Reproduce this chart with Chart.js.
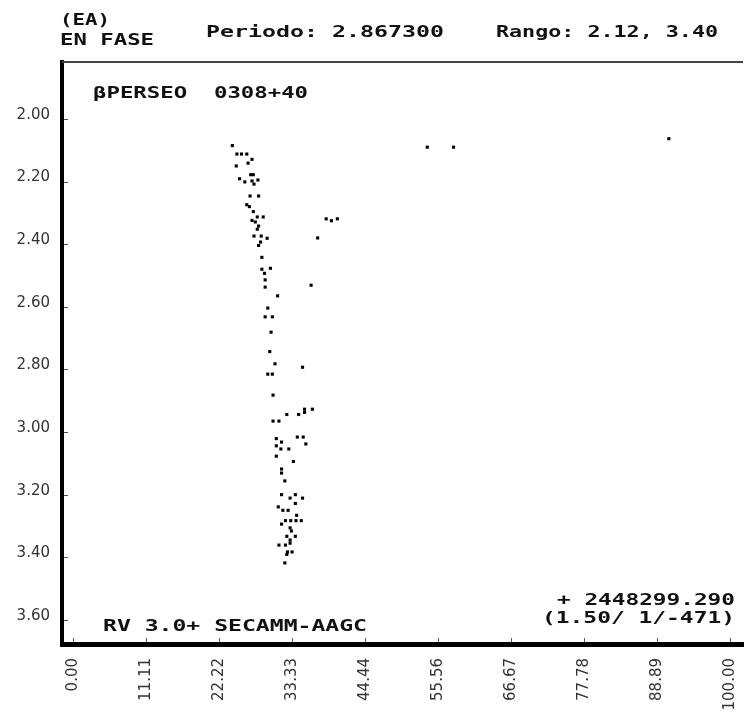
<!DOCTYPE html>
<html>
<head>
<meta charset="utf-8">
<script src="https://cdn.jsdelivr.net/npm/chart.js@4/dist/chart.umd.min.js"></script>
<style>
  html, body { margin: 0; padding: 0; background: #fff; }
  canvas { display: block; }
</style>
</head>
<body>
<canvas id="chart" width="747" height="713"></canvas>
<script>
const phase = [
  24.2, 24.9, 25.6, 26.4, 27.2, 26.6, 24.8, 27.0, 27.4, 25.3,
  26.1, 27.2, 27.5, 28.1, 26.9, 28.2, 26.4, 26.8, 27.4, 28.0,
  28.9, 27.2, 27.7, 28.2, 28.0, 38.5, 39.3, 40.2, 27.5, 28.6,
  29.5, 28.5, 28.2, 37.2, 28.7, 28.7, 29.1, 30.0, 29.2, 29.2,
  36.2, 31.1, 29.6, 29.2, 30.3, 30.1, 29.9, 30.7, 34.9, 29.6,
  30.3, 30.4, 35.2, 36.4, 35.2, 32.5, 34.3, 30.4, 31.3, 34.1,
  35.0, 30.9, 31.7, 30.9, 31.6, 32.8, 35.4, 30.9, 33.5, 31.7,
  31.7, 32.2, 31.7, 33.0, 33.8, 34.9, 33.8, 31.2, 31.9, 32.7,
  34.0, 31.7, 32.3, 33.1, 33.9, 34.7, 33.0, 33.2, 32.5, 33.8,
  33.0, 33.0, 31.3, 32.3, 32.6, 33.3, 32.5, 32.2, 53.9, 57.9,
  90.7
];
const magnitude = [
  2.085, 2.112, 2.112, 2.112, 2.129, 2.141, 2.150, 2.178, 2.178, 2.191,
  2.201, 2.198, 2.208, 2.195, 2.246, 2.246, 2.274, 2.280, 2.296, 2.313,
  2.313, 2.324, 2.329, 2.342, 2.352, 2.319, 2.325, 2.319, 2.374, 2.374,
  2.381, 2.393, 2.404, 2.380, 2.442, 2.480, 2.493, 2.477, 2.514, 2.537,
  2.531, 2.565, 2.604, 2.632, 2.632, 2.681, 2.743, 2.782, 2.793, 2.815,
  2.815, 2.882, 2.927, 2.927, 2.937, 2.944, 2.944, 2.965, 2.965, 3.016,
  3.016, 3.021, 3.032, 3.044, 3.054, 3.054, 3.038, 3.077, 3.094, 3.118,
  3.131, 3.156, 3.200, 3.211, 3.200, 3.211, 3.228, 3.239, 3.250, 3.250,
  3.266, 3.294, 3.283, 3.283, 3.283, 3.283, 3.306, 3.316, 3.333, 3.333,
  3.345, 3.355, 3.361, 3.361, 3.383, 3.383, 3.391, 3.418, 2.090, 2.090,
  2.063
];

const xTickValues = [0, 11.11, 22.22, 33.33, 44.44, 55.56, 66.67, 77.78, 88.89, 100];
const xTickLabels = ["0.00", "11.11", "22.22", "33.33", "44.44", "55.56", "66.67", "77.78", "88.89", "100.00"];
const yTickValues = [2.0, 2.2, 2.4, 2.6, 2.8, 3.0, 3.2, 3.4, 3.6];
const yTickLabels = ["2.00", "2.20", "2.40", "2.60", "2.80", "3.00", "3.20", "3.40", "3.60"];

// header / annotation strings: [text, left, baseline, width]
const notes = [
  ["(EA)", 60, 25, 50],
  ["EN FASE", 60, 45, 94],
  ["Periodo: 2.867300", 206, 37, 238],
  ["Rango: 2.12, 3.40", 496, 37, 222],
  ["\u03b2PERSEO  0308+40", 93, 98, 215],
  ["RV 3.0+ SECAMM-AAGC", 103, 631, 264],
  ["+ 2448299.290", 557, 605, 178],
  ["(1.50/ 1/-471)", 542, 623, 193],
];

const tickFont = { family: "DejaVu Sans", size: 15 };

function drawWide(ctx, text, x, baseline, width) {
  ctx.save();
  ctx.font = 'bold 15px "DejaVu Sans Mono"';
  ctx.fillStyle = "#111";
  ctx.textBaseline = "alphabetic";
  const w = ctx.measureText(text).width;
  ctx.translate(x, baseline);
  ctx.scale(width / w, 1);
  ctx.fillText(text, 0, 0);
  ctx.restore();
}

const framePlugin = {
  id: "frame",
  afterDraw(chart) {
    const { ctx, chartArea } = chart;
    const xs = chart.scales.x;
    const ys = chart.scales.y;

    // top border
    ctx.save();
    ctx.strokeStyle = "#444";
    ctx.lineWidth = 2;
    ctx.beginPath();
    ctx.moveTo(chartArea.left, chartArea.top);
    ctx.lineTo(chartArea.right, chartArea.top);
    ctx.stroke();

    // little tick marks pointing into the plot
    ctx.strokeStyle = "#555";
    ctx.lineWidth = 1;
    ctx.beginPath();
    yTickValues.forEach((v) => {
      const py = Math.round(ys.getPixelForValue(v)) + 0.5;
      ctx.moveTo(chartArea.left + 2, py);
      ctx.lineTo(chartArea.left + 6, py);
    });
    xTickValues.forEach((v) => {
      const px = Math.round(xs.getPixelForValue(v)) + 0.5;
      ctx.moveTo(px, chartArea.bottom - 2);
      ctx.lineTo(px, chartArea.bottom - 6);
    });
    ctx.stroke();
    ctx.restore();

    notes.forEach(([t, x, y, w]) => drawWide(ctx, t, x, y, w));
  },
};

new Chart(document.getElementById("chart"), {
  type: "scatter",
  data: {
    datasets: [
      {
        data: phase.map((p, i) => ({ x: p, y: magnitude[i] })),
        pointStyle: "rect",
        pointRadius: 2.2,
        borderWidth: 0,
        backgroundColor: "#000",
      },
    ],
  },
  options: {
    responsive: false,
    animation: false,
    events: [],
    layout: { padding: { top: 62, left: 0, right: 0, bottom: 0 } },
    plugins: {
      legend: { display: false },
      tooltip: { enabled: false },
      title: { display: false },
    },
    scales: {
      x: {
        type: "linear",
        min: -1.75,
        max: 102,
        afterBuildTicks(scale) {
          scale.ticks = xTickValues.map((v) => ({ value: v }));
        },
        afterFit(scale) {
          scale.height = 69;
          scale.paddingLeft = 0;
          scale.paddingRight = 0;
        },
        ticks: {
          autoSkip: false,
          minRotation: 90,
          maxRotation: 90,
          padding: 14,
          color: "#333",
          font: tickFont,
          callback(value, index) {
            return xTickLabels[index];
          },
        },
        grid: { display: false, drawTicks: false },
        border: { display: true, color: "#000", width: 5 },
      },
      y: {
        type: "linear",
        reverse: true,
        min: 1.818,
        max: 3.677,
        afterBuildTicks(scale) {
          scale.ticks = yTickValues.map((v) => ({ value: v }));
        },
        afterFit(scale) {
          scale.width = 62;
        },
        ticks: {
          autoSkip: false,
          padding: 12,
          labelOffset: -4,
          color: "#333",
          font: tickFont,
          callback(value, index) {
            return yTickLabels[index];
          },
        },
        grid: { display: false, drawTicks: false },
        border: { display: true, color: "#000", width: 4 },
      },
    },
  },
  plugins: [framePlugin],
});
</script>
</body>
</html>
